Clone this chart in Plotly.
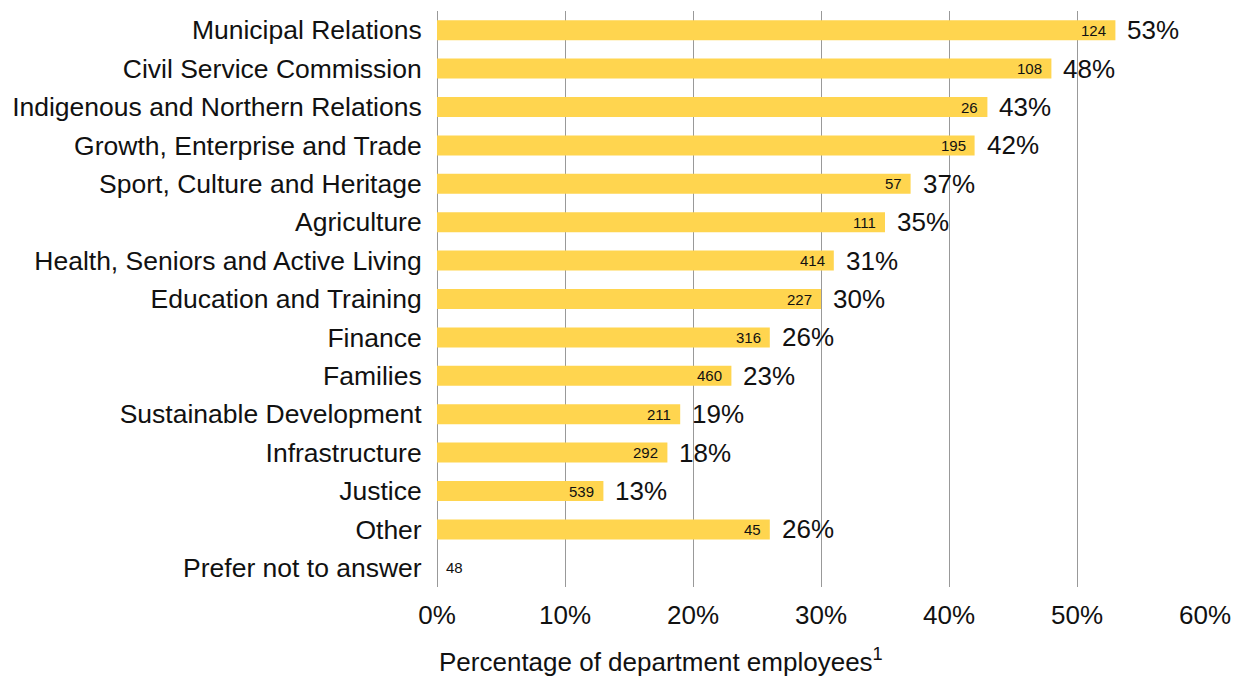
import plotly.graph_objects as go

# Department survey results
departments = [
    "Municipal Relations", "Civil Service Commission", "Indigenous and Northern Relations",
    "Growth, Enterprise and Trade", "Sport, Culture and Heritage", "Agriculture",
    "Health, Seniors and Active Living", "Education and Training", "Finance", "Families",
    "Sustainable Development", "Infrastructure", "Justice", "Other", "Prefer not to answer",
]
percentages = [53, 48, 43, 42, 37, 35, 31, 30, 26, 23, 19, 18, 13, 26, 0]
counts = [124, 108, 26, 195, 57, 111, 414, 227, 316, 460, 211, 292, 539, 45, 48]

x_ticks = [0, 10, 20, 30, 40, 50, 60]
x_tick_labels = [f"{t}%" for t in x_ticks]

FONT = "Liberation Sans, Arial, Helvetica, sans-serif"
BAR_COLOR = "#FFD54F"
TEXT = "#111111"

fig = go.Figure(
    go.Bar(
        y=departments,
        x=percentages,
        orientation="h",
        marker=dict(color=BAR_COLOR, line=dict(width=0)),
        width=0.52,
        hoverinfo="skip",
    )
)

annotations = []
for dep, pct, n in zip(departments, percentages, counts):
    if pct > 0:
        # respondent count inside the bar end
        annotations.append(dict(x=pct, y=dep, text=str(n), showarrow=False,
                                xanchor="right", xshift=-7,
                                font=dict(size=15, color=TEXT, family=FONT)))
        # percentage just past the bar end
        annotations.append(dict(x=pct, y=dep, text=f"{pct}%", showarrow=False,
                                xanchor="left", xshift=10,
                                font=dict(size=26, color=TEXT, family=FONT)))
    else:
        annotations.append(dict(x=0, y=dep, text=str(n), showarrow=False,
                                xanchor="left", xshift=7,
                                font=dict(size=15, color=TEXT, family=FONT)))

annotations.append(dict(
    x=0.292, y=-0.128, xref="paper", yref="paper",
    xanchor="center", yanchor="middle",
    text="Percentage of department employees<sup>1</sup>", showarrow=False,
    font=dict(size=26, color=TEXT, family=FONT),
))

fig.update_layout(
    width=1241, height=679,
    margin=dict(l=437, r=36, t=11, b=92),
    plot_bgcolor="white", paper_bgcolor="white",
    showlegend=False,
    font=dict(family=FONT, color=TEXT),
    annotations=annotations,
)
fig.update_xaxes(
    range=[0, 60], tickvals=x_ticks, ticktext=x_tick_labels,
    showgrid=True, gridcolor="#999999", gridwidth=1,
    zeroline=True, zerolinecolor="#999999", zerolinewidth=1,
    ticks="outside", ticklen=5, tickcolor="rgba(0,0,0,0)",
    tickfont=dict(size=26, family=FONT, color=TEXT),
    fixedrange=True,
)
fig.update_yaxes(
    categoryorder="array", categoryarray=departments, autorange="reversed",
    ticks="outside", ticklen=9, tickcolor="rgba(0,0,0,0)",
    tickfont=dict(size=26.5, family=FONT, color=TEXT),
    showgrid=False, fixedrange=True,
)

fig.write_html("out.html")
